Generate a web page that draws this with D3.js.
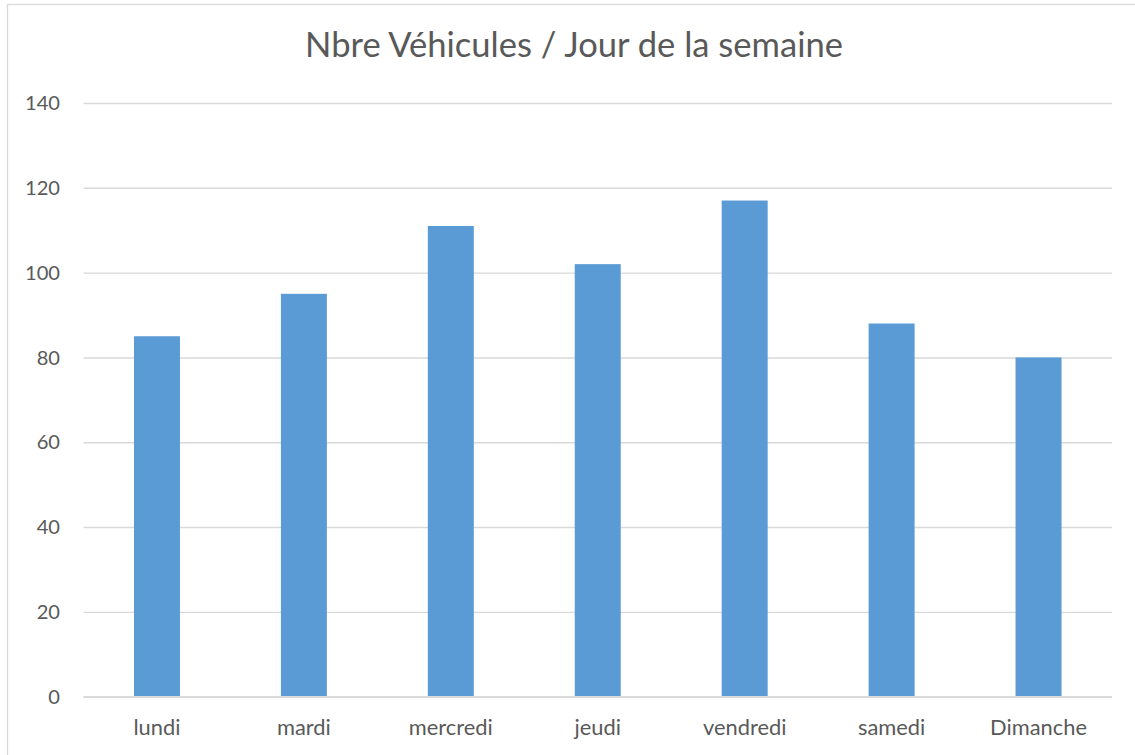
<!DOCTYPE html>
<html>
<head>
<meta charset="utf-8">
<script src="https://cdn.jsdelivr.net/npm/d3@7"></script>
<style>
  html, body { margin: 0; padding: 0; background: #fff; overflow: hidden; }
  svg { display: block; }
</style>
</head>
<body>
<svg id="chart" width="1135" height="755"></svg>
<script>
const chartTitle = "Nbre Véhicules / Jour de la semaine";
const categories = ["lundi", "mardi", "mercredi", "jeudi", "vendredi", "samedi", "Dimanche"];
const values = [85, 95, 111, 102, 117, 88, 80];
const yTicks = [0, 20, 40, 60, 80, 100, 120, 140];

const W = 1135, H = 755;
const margin = { left: 83.5, right: 1112, top: 103, bottom: 696.7 };
const font = "Lato, 'Open Sans', sans-serif";
const textColor = "#595959";

const svg = d3.select("#chart");

// fit a font size so that a sample string has the target width
function fitSize(sample, base, targetWidth) {
  const tmp = svg.append("text")
    .style("font-family", font).style("font-size", base + "px").text(sample);
  const w = tmp.node().getComputedTextLength();
  tmp.remove();
  return w > 0 ? base * targetWidth / w : base;
}
const yFs = fitSize("140", 20, 35);
const xFs = fitSize("Dimanche", 20, 97);
const titleFs = fitSize(chartTitle, 29, 538);

// chart border
svg.append("rect")
  .attr("x", 7.5).attr("y", 4.5)
  .attr("width", W + 10).attr("height", H + 10)
  .attr("fill", "#fff")
  .attr("stroke", "#d9d9d9").attr("stroke-width", 1.3);

const x = d3.scaleBand()
  .domain(categories)
  .range([margin.left, margin.right])
  .paddingInner(0.687)
  .paddingOuter(0.3435);

const y = d3.scaleLinear()
  .domain([0, 140])
  .range([margin.bottom, margin.top]);

// gridlines + y labels
const yAxis = d3.axisLeft(y)
  .tickValues(yTicks)
  .tickSize(-(margin.right - margin.left))
  .tickPadding(23.5)
  .tickFormat(d3.format("d"));

const gy = svg.append("g")
  .attr("transform", `translate(${margin.left},0)`)
  .call(yAxis);
gy.select(".domain").remove();
gy.selectAll(".tick line").attr("stroke", "#d9d9d9").attr("stroke-width", 1.4);
gy.selectAll(".tick text")
  .attr("fill", textColor)
  .attr("dy", "0.33em")
  .style("font-family", font)
  .style("font-size", yFs.toFixed(2) + "px");

// bars
svg.append("g").selectAll("rect")
  .data(values)
  .join("rect")
  .attr("x", (d, i) => x(categories[i]))
  .attr("y", d => y(d))
  .attr("width", x.bandwidth())
  .attr("height", d => y(0) - y(d))
  .attr("fill", "#5b9bd5");

// x axis
const xAxis = d3.axisBottom(x).tickSize(0).tickPadding(38.3 - 0.71 * xFs);
const gx = svg.append("g")
  .attr("transform", `translate(0,${margin.bottom})`)
  .call(xAxis);
gx.select(".domain")
  .attr("stroke", "#d9d9d9").attr("stroke-width", 1.4)
  .attr("d", `M${margin.left},0H${margin.right}`);
gx.selectAll(".tick text")
  .attr("fill", textColor)
  .style("font-family", font)
  .style("font-size", xFs.toFixed(2) + "px");

// title
svg.append("text")
  .attr("x", 574)
  .attr("y", 57)
  .attr("text-anchor", "middle")
  .attr("fill", textColor)
  .style("font-family", font)
  .style("font-size", titleFs.toFixed(2) + "px")
  .text(chartTitle);
</script>
</body>
</html>
